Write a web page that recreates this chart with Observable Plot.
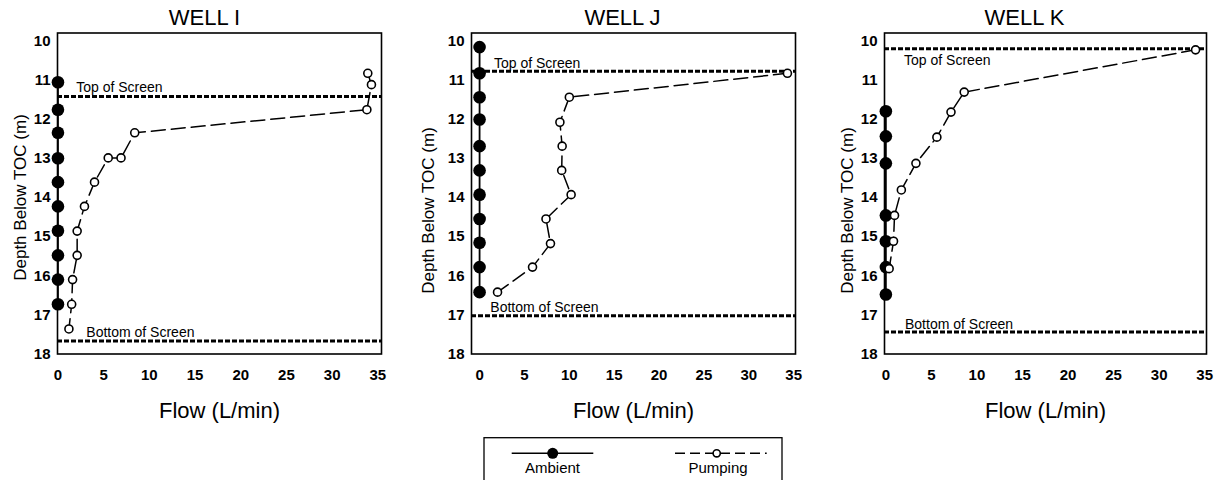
<!DOCTYPE html>
<html><head><meta charset="utf-8">
<script src="https://cdn.jsdelivr.net/npm/d3@7"></script>
<script src="https://cdn.jsdelivr.net/npm/@observablehq/plot@0.6"></script>
<style>
html,body{margin:0;padding:0;background:#fff;width:1215px;height:480px;overflow:hidden;font-family:"Liberation Sans",Arial,sans-serif;}
#wrap{position:relative;width:1215px;height:480px;}
#wrap > svg, #wrap > figure{position:absolute;top:0;margin:0;}
</style></head><body><div id="wrap"></div>
<script>
// ---- data ----
const wellTitles = ["WELL I", "WELL J", "WELL K"];
const xTicks = [0, 5, 10, 15, 20, 25, 30, 35];
const yTicks = [10, 11, 12, 13, 14, 15, 16, 17, 18];

const ambientFlowI = [0, 0, 0, 0, 0, 0, 0, 0, 0, 0];
const ambientDepthI = [11.06, 11.76, 12.35, 13.0, 13.61, 14.23, 14.85, 15.48, 16.1, 16.73];
const pumpingFlowI = [33.9, 34.3, 33.8, 8.4, 6.9, 5.5, 4.0, 2.9, 2.1, 2.1, 1.6, 1.5, 1.2];
const pumpingDepthI = [10.83, 11.12, 11.76, 12.35, 12.99, 12.99, 13.61, 14.23, 14.86, 15.48, 16.1, 16.73, 17.36];

const ambientFlowJ = [0, 0, 0, 0, 0, 0, 0, 0, 0, 0, 0];
const ambientDepthJ = [10.16, 10.83, 11.44, 12.01, 12.69, 13.31, 13.93, 14.55, 15.16, 15.78, 16.42];
const pumpingFlowJ = [34.3, 10.0, 8.95, 9.2, 9.15, 10.2, 7.4, 7.9, 5.9, 2.0];
const pumpingDepthJ = [10.83, 11.44, 12.08, 12.69, 13.31, 13.93, 14.55, 15.18, 15.78, 16.42];

const ambientFlowK = [0, 0, 0, 0, 0, 0, 0];
const ambientDepthK = [11.8, 12.44, 13.13, 14.46, 15.12, 15.78, 16.48];
const pumpingFlowK = [34.0, 8.6, 7.15, 5.6, 3.3, 1.7, 0.95, 0.84, 0.36];
const pumpingDepthK = [10.23, 11.31, 11.82, 12.46, 13.13, 13.81, 14.46, 15.12, 15.82];

const topOfScreen = [11.42, 10.78, 10.2];
const bottomOfScreen = [17.67, 17.02, 17.44];

const seriesNames = ["Ambient", "Pumping"];
const screenLabels = ["Top of Screen", "Bottom of Screen"];

// ---- layout ----
const FONT = '"Liberation Sans", Arial, Helvetica, sans-serif';
const zip = (xs, ys) => xs.map((x, i) => ({flow: x, depth: ys[i]}));
const panels = [
  {left: 0, width: 395, ml: 57, mr: 14, xDomain: [-0.05, 35.4],
   ambient: zip(ambientFlowI, ambientDepthI), pumping: zip(pumpingFlowI, pumpingDepthI),
   topX: 2.0, topDy: -9, botX: 3.1, botDy: -9, titleDx: -15, ylabDx: -37, ylabDy: 4},
  {left: 400, width: 410, ml: 71, mr: 15, xDomain: [-0.9, 35.2],
   ambient: zip(ambientFlowJ, ambientDepthJ), pumping: zip(pumpingFlowJ, pumpingDepthJ),
   topX: 1.6, topDy: -8, botX: 1.2, botDy: -8, titleDx: -11, ylabDx: -43, ylabDy: 17},
  {left: 810, width: 405, ml: 74, mr: 9, xDomain: [-0.15, 35.2],
   ambient: zip(ambientFlowK, ambientDepthK), pumping: zip(pumpingFlowK, pumpingDepthK),
   topX: 2.0, topDy: 12, botX: 2.1, botDy: -8, titleDx: -21, ylabDx: -37, ylabDy: 17}
];

const wrap = document.getElementById("wrap");
panels.forEach((p, i) => {
  const chart = Plot.plot({
    width: p.width, height: 420,
    marginLeft: p.ml, marginRight: p.mr, marginTop: 32.5, marginBottom: 66.5,
    style: {fontFamily: FONT, background: "transparent", overflow: "visible", color: "#000"},
    x: {domain: p.xDomain, label: null},
    y: {domain: [9.8, 18], reverse: true, label: null},
    marks: [
      Plot.axisX(xTicks, {tickSize: 0, tickPadding: 15, fontSize: 15, fontWeight: "bold", label: null}),
      Plot.axisY(yTicks, {tickSize: 0, tickPadding: 7, fontSize: 15, fontWeight: "bold", label: null}),
      Plot.ruleY([topOfScreen[i], bottomOfScreen[i]], {stroke: "#000", strokeWidth: 3, strokeDasharray: "5,2"}),
      Plot.text([topOfScreen[i]], {x: p.topX, y: d => d, text: () => screenLabels[0], textAnchor: "start", dy: p.topDy, fontSize: 14}),
      Plot.text([bottomOfScreen[i]], {x: p.botX, y: d => d, text: () => screenLabels[1], textAnchor: "start", dy: p.botDy, fontSize: 14}),
      Plot.line(p.pumping, {x: "flow", y: "depth", stroke: "#000", strokeWidth: 1.5, strokeDasharray: "14,6"}),
      Plot.line(p.ambient, {x: "flow", y: "depth", stroke: "#000", strokeWidth: 1.8}),
      Plot.dot(p.ambient, {x: "flow", y: "depth", r: 6.3, fill: "#000", stroke: "none"}),
      Plot.dot(p.pumping, {x: "flow", y: "depth", r: 4, fill: "#fff", stroke: "#000", strokeWidth: 1.6}),
      Plot.frame({stroke: "#000", strokeWidth: 1.6}),
      Plot.text([wellTitles[i]], {frameAnchor: "top", textAnchor: "middle", lineAnchor: "middle", text: d => d, dy: -15, dx: p.titleDx, fontSize: 22}),
      Plot.text(["Flow (L/min)"], {frameAnchor: "bottom", textAnchor: "middle", lineAnchor: "middle", text: d => d, dy: 57, fontSize: 22}),
      Plot.text(["Depth Below TOC (m)"], {frameAnchor: "left", textAnchor: "middle", lineAnchor: "middle", text: d => d, rotate: -90, dx: p.ylabDx, dy: p.ylabDy, fontSize: 17})
    ]
  });
  chart.style.left = p.left + "px";
  wrap.appendChild(chart);
});

// ---- legend (below the charts) ----
const ns = "http://www.w3.org/2000/svg";
const leg = document.createElementNS(ns, "svg");
leg.setAttribute("width", 330); leg.setAttribute("height", 50);
leg.style.left = "470px"; leg.style.top = "430px";
leg.innerHTML = `
  <rect x="14" y="7.7" width="298" height="60" fill="none" stroke="#000" stroke-width="1.3"/>
  <line x1="41.7" y1="23.3" x2="123.3" y2="23.3" stroke="#000" stroke-width="1.6"/>
  <circle cx="82.7" cy="23.3" r="5.5" fill="#000"/>
  <text x="82.5" y="43" text-anchor="middle" font-family='${FONT}' font-size="15">${seriesNames[0]}</text>
  <line x1="205" y1="23.3" x2="296.7" y2="23.3" stroke="#000" stroke-width="1.5" stroke-dasharray="10,5"/>
  <circle cx="246.7" cy="23.3" r="3.6" fill="#fff" stroke="#000" stroke-width="1.6"/>
  <text x="248" y="43" text-anchor="middle" font-family='${FONT}' font-size="15">${seriesNames[1]}</text>`;
wrap.appendChild(leg);
</script>
</body></html>
